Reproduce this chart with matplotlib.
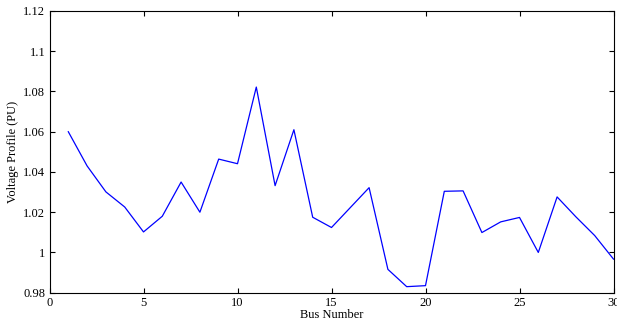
import matplotlib
matplotlib.use("Agg")
import matplotlib.pyplot as plt

bus = list(range(1, 31))
voltage = [1.0600, 1.0430, 1.0301, 1.0226, 1.0102, 1.0180, 1.0350, 1.0200, 1.0464, 1.0441,
           1.0822, 1.0332, 1.0610, 1.0175, 1.0124, 1.0223, 1.0322, 0.9916, 0.9830, 0.9835,
           1.0304, 1.0306, 1.0099, 1.0152, 1.0174, 1.0000, 1.0276, 1.0177, 1.0084, 0.9967]
xticks = [0, 5, 10, 15, 20, 25, 30]
yticks = [0.98, 1.00, 1.02, 1.04, 1.06, 1.08, 1.10, 1.12]
ytick_labels = ["0.98", "1", "1.02", "1.04", "1.06", "1.08", "1.1", "1.12"]

plt.rcParams['font.family'] = ['Liberation Serif', 'DejaVu Serif']
fig = plt.figure(figsize=(6.17, 3.25), dpi=100)
ax = fig.add_axes([49.5/617, 1 - 292.7/325, 564/617, 281.7/325])
ax.plot(bus, voltage, color='#0000ff', linewidth=0.9)
ax.set_xlim(0, 30)
ax.set_ylim(0.98, 1.12)
ax.set_xticks(xticks)
ax.set_yticks(yticks)
ax.set_yticklabels(ytick_labels)
ax.tick_params(direction='in', top=True, right=True, length=3.5, width=0.8, labelsize=9, pad=3)
for s in ax.spines.values():
    s.set_linewidth(0.8)
ax.set_xlabel('Bus Number', fontsize=9, labelpad=0)
ax.set_ylabel('Voltage Profile (PU)', fontsize=9, labelpad=3)
fig.savefig('out.png', dpi=100)
